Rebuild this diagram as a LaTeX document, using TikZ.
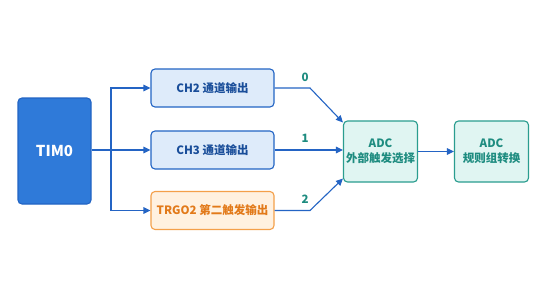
\documentclass[tikz,border=0pt]{standalone}
\usepackage{fontspec}
\setmainfont{Noto Sans CJK SC}
\usepackage{xcolor}
\usepackage{tikz}
\usetikzlibrary{calc,arrows.meta,positioning}
\definecolor{timBlue}{RGB}{47,122,217}
\definecolor{timBlueDark}{RGB}{34,100,196}
\definecolor{chFill}{RGB}{222,235,250}
\definecolor{chText}{RGB}{26,78,154}
\definecolor{trgFill}{RGB}{255,241,224}
\definecolor{trgLine}{RGB}{244,160,74}
\definecolor{trgText}{RGB}{226,122,26}
\definecolor{adcFill}{RGB}{224,245,242}
\definecolor{adcLine}{RGB}{42,157,143}
\definecolor{adcText}{RGB}{30,140,128}
\definecolor{arrBlue}{RGB}{36,100,196}

\tikzset{
  box/.style={rounded corners=4pt, line width=1.1pt, align=center, inner sep=0pt,
    font=\bfseries\fontsize{11.5}{15}\selectfont},
  chbox/.style={box, draw=timBlueDark, fill=chFill, text=chText,
    minimum width=123pt, minimum height=38pt},
  trgbox/.style={box, draw=trgLine, fill=trgFill, text=trgText,
    minimum width=123pt, minimum height=38pt},
  adcbox/.style={box, draw=adcLine, fill=adcFill, text=adcText,
    minimum width=74pt, minimum height=61pt},
  arr/.style={draw=arrBlue, line width=1.1pt, -{Triangle[length=7pt,width=6.5pt]}},
  sel/.style={text=adcText, font=\bfseries\fontsize{11.5}{13}\selectfont}
}

\begin{document}
\begin{tikzpicture}[x=1pt,y=-1pt]
    \useasboundingbox[fill=white] (0,0) rectangle (544,306);

    % timer block
    \node[box, draw=timBlueDark, fill=timBlue, text=white,
      minimum width=73pt, minimum height=106pt,
      font=\bfseries\fontsize{15}{17}\selectfont] (tim) at (54.5,151) {TIM0};

    % output channels
    \node[chbox]  (ch2)  at (212.5,88)  {CH2 通道输出};
    \node[chbox]  (ch3)  at (212.5,150) {CH3 通道输出};
    \node[trgbox] (trgo) at (212.5,210.5) {TRGO2 第二触发输出};

    % ADC blocks
    \node[adcbox] (adcsel) at (380.5,151.5) {ADC\\外部触发选择};
    \node[adcbox] (adcreg) at (491.5,151.5) {ADC\\规则组转换};

    % fan-out from the timer
    \coordinate (split) at (111,150);
    \draw[arr] (tim.east |- split) -- (ch3.west);
    \draw[arr] (split) |- (ch2.west);
    \draw[arr] (split) |- (trgo.west);

    % selector inputs
    \coordinate (k0) at (310,88);
    \coordinate (k2) at (310,210.5);
    \draw[arr] (ch2.east) -- (k0) -- ([yshift=-2pt]adcsel.north west);
    \draw[arr] (ch3.east) -- (adcsel.west |- ch3.east);
    \draw[arr] (trgo.east) -- (k2) -- ([yshift=4pt]adcsel.south west);
    \node[sel] (n0) at (305,77)  {0};
    \node[sel] (n1) at (305,138) {1};
    \node[sel] (n2) at (305,199) {2};

    % selector to conversion
    \draw[arr] (adcsel.east) -- (adcreg.west);
\end{tikzpicture}
\end{document}
